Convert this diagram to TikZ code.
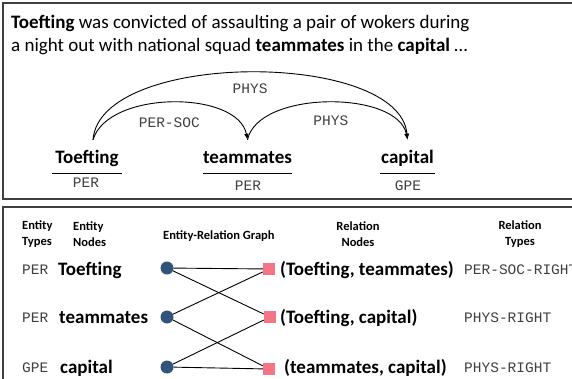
\documentclass[tikz,border=0pt]{standalone}
\usepackage{fontspec}
\setmainfont{Carlito}
\setmonofont{Liberation Mono}
\usetikzlibrary{arrows.meta}
\definecolor{entblue}{RGB}{50,84,122}
\definecolor{relpink}{RGB}{244,118,132}
\tikzset{
  panel/.style={draw=black!75,line width=1.2bp},
  sent/.style={font=\fontsize{19bp}{22bp}\selectfont,inner sep=0pt,anchor=base west},
  wordfont/.style={font=\fontsize{19bp}{22bp}\selectfont\bfseries,inner sep=0pt},
  word/.style={wordfont,text height=23bp,text depth=10bp,anchor=base},
  tag/.style={font=\fontsize{14.5bp}{16bp}\selectfont\ttfamily,text=black!75,inner sep=0pt},
  head/.style={font=\fontsize{12.5bp}{16bp}\selectfont\bfseries,inner sep=0pt},
  entnode/.style={circle,fill=entblue,minimum size=13bp,inner sep=0pt},
  relnode/.style={rectangle,fill=relpink,minimum size=12bp,inner sep=0pt},
  relarc/.style={->,line width=0.9bp},
  edge/.style={line width=0.9bp},
}
\begin{document}
\begin{tikzpicture}[x=1bp,y=-1bp,>={Latex[length=6bp,width=4.5bp]}]
  \useasboundingbox (0,0) rectangle (572,378);
  \clip (0,0) rectangle (572,378);
  % sentence panel
  \draw[panel] (3,3) rectangle (600,199);
  \node[sent] (line1) at (11,28)
    {\textbf{Toefting} was convicted of assaulting a pair of wokers during};
  \node[sent] (line2) at (11,51)
    {a night out with national squad \textbf{teammates} in the \textbf{capital} …};
  \node[word,minimum width=70bp] (toefting) at (87,163) {Toefting};
  \node[word,minimum width=89bp] (teammates) at (247.5,163) {teammates};
  \node[word,minimum width=55bp] (capital) at (407.5,163) {capital};
  \foreach \w in {toefting,teammates,capital}
    \draw[line width=1.3bp] (\w.south west) -- (\w.south east);
  \node[tag] (per1) at (86,183) {PER};
  \node[tag] (per2) at (248,186) {PER};
  \node[tag] (gpe) at (408,186) {GPE};
  % relation arcs
  \draw[relarc] ([xshift=6bp]toefting.north) .. controls (100,50) and (400,50) .. (capital.north)
    node[tag,pos=0.5,below=11bp] {PHYS};
  \draw[relarc] ([xshift=6bp]toefting.north) .. controls (108,90) and (238,90) .. (teammates.north)
    node[tag,pos=0.5,below=15bp,xshift=-3bp] {PER-SOC};
  \draw[relarc] (teammates.north) .. controls (258,90) and (398,90) .. (capital.north)
    node[tag,pos=0.5,below=13bp,xshift=3bp] {PHYS};

  % graph panel
  \draw[panel] (3,207) rectangle (600,400);
  \node[head,align=left,anchor=west] (etypes) at (22,234) {Entity\\Types};
  \node[head,align=left,anchor=west] (enodes) at (73,234) {Entity\\Nodes};
  \node[head,anchor=west] (graph) at (163,236) {Entity-Relation Graph};
  \node[head,align=center] (rnodes) at (358,234) {Relation\\Nodes};
  \node[head,align=center] (rtypes) at (520,234) {Relation\\Types};
  % entity side
  \node[tag,anchor=west] (t1) at (22,270) {PER};
  \node[tag,anchor=west] (t2) at (22,318) {PER};
  \node[tag,anchor=west] (t3) at (22,368) {GPE};
  \node[wordfont,anchor=west] (n1) at (58,270) {Toefting};
  \node[wordfont,anchor=west] (n2) at (59,318) {teammates};
  \node[wordfont,anchor=west] (n3) at (60,368) {capital};
  \node[entnode] (e1) at (167,268) {};
  \node[entnode] (e2) at (167,317) {};
  \node[entnode] (e3) at (167,367) {};
  % relation side
  \node[relnode] (r1) at (269,269) {};
  \node[relnode] (r2) at (270,317) {};
  \node[relnode] (r3) at (269,369) {};
  \node[wordfont,anchor=west] (rn1) at (280,270) {(Toefting, teammates)};
  \node[wordfont,anchor=west] (rn2) at (280,318) {(Toefting, capital)};
  \node[wordfont,anchor=west] (rn3) at (284,368) {(teammates, capital)};
  \node[tag,anchor=west] (rt1) at (464,270) {PER-SOC-RIGHT};
  \node[tag,anchor=west] (rt2) at (464,318) {PHYS-RIGHT};
  \node[tag,anchor=west] (rt3) at (464,368) {PHYS-RIGHT};
  % bipartite edges
  \draw[edge] (e1) -- (r1);
  \draw[edge] (e1) -- (r2);
  \draw[edge] (e2) -- (r1);
  \draw[edge] (e2) -- (r3);
  \draw[edge] (e3) -- (r2);
  \draw[edge] (e3) -- (r3);
\end{tikzpicture}
\end{document}
